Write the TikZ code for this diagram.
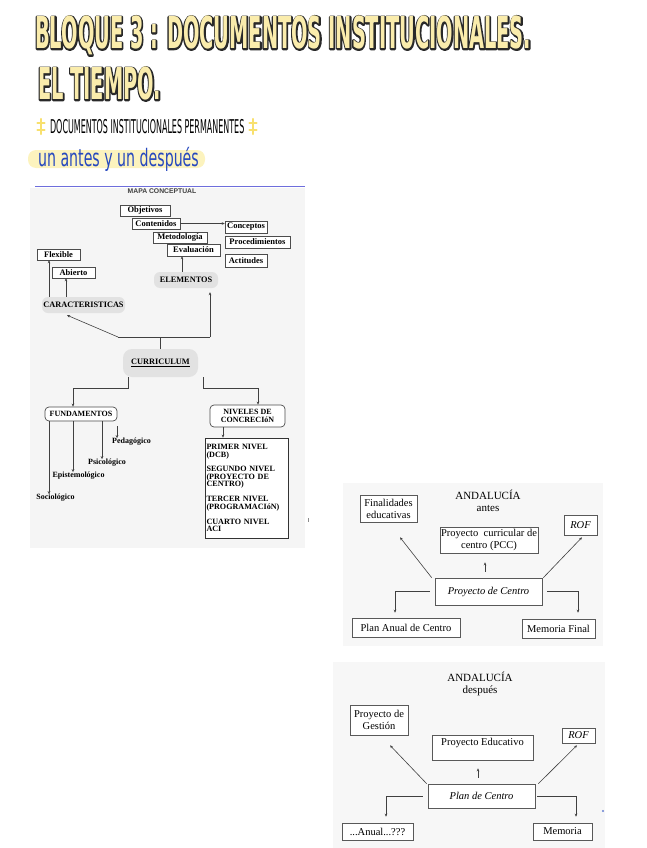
\documentclass[tikz,border=0pt]{standalone}
\usepackage{fontspec}
\setmainfont{Liberation Serif}
\newfontfamily\mapsans{Liberation Sans}
\newfontfamily\handfont{DejaVu Sans}
\newfontfamily\titlefont[FakeStretch=0.44]{DejaVu Sans Bold}
\usetikzlibrary{arrows.meta,calc}
\definecolor{inkyellow}{RGB}{250,236,172}
\definecolor{inkline}{RGB}{40,40,40}
\definecolor{penblue}{RGB}{38,72,190}
\definecolor{marker}{RGB}{252,243,190}
\definecolor{sparkyellow}{RGB}{248,224,110}
\definecolor{rulecol}{RGB}{110,110,220}
\definecolor{bubblegray}{RGB}{226,226,226}

\begin{document}
\begin{tikzpicture}[x=1pt,y=-1pt,
  >={Stealth[length=3pt,width=2.6pt]},
  link/.style={draw=black!75,line width=0.6pt},
  box/.style={draw=black!70,line width=0.5pt,fill=white,inner sep=0pt,font=\bfseries\fontsize{8.5}{9}\selectfont},
  bubble/.style={fill=bubblegray,rounded corners=6pt,inner sep=0pt,font=\bfseries\fontsize{8.3}{9}\selectfont},
  roundbox/.style={draw=black!70,line width=0.7pt,fill=white,rounded corners=4pt,inner sep=0pt,align=center,font=\bfseries\fontsize{8}{8.6}\selectfont},
  leaf/.style={inner sep=0pt,font=\bfseries\fontsize{8}{9}\selectfont},
  plain/.style={draw=black!65,line width=0.6pt,fill=white,inner sep=0pt,align=center,font=\fontsize{10.5}{12}\selectfont},
  andhead/.style={align=center,inner sep=0pt,font=\fontsize{11}{12}\selectfont},
  ink/.style={anchor=base west,inner sep=0pt,text=inkyellow,font=\titlefont\fontsize{44}{44}\selectfont},
  spark/.style={draw=sparkyellow,line width=2.2pt,line cap=round}]
  \useasboundingbox (0,0) rectangle (646,848);

  % Title (outline pass, then fill pass)
  \node[ink] (title-ol) at (35,49) {\special{pdf:literal direct 1 Tr 2.8 w 1 j 0.16 0.16 0.16 RG}BLOQUE 3 : DOCUMENTOS INSTITUCIONALES.\special{pdf:literal direct 0 Tr}};
  \node[ink] (subtitle-ol) at (38,100) {\special{pdf:literal direct 1 Tr 2.8 w 1 j 0.16 0.16 0.16 RG}EL TIEMPO.\special{pdf:literal direct 0 Tr}};
  \node[ink] (title) at (35,49) {BLOQUE 3 : DOCUMENTOS INSTITUCIONALES.};
  \node[ink] (subtitle) at (38,100) {EL TIEMPO.};

  % Subheadings
  \foreach \sx in {41,253}{
    \draw[spark] (\sx,119) -- (\sx,134);
    \draw[spark] (\sx-3.5,123) -- (\sx+3.5,123);
    \draw[spark] (\sx-3.5,130) -- (\sx+3.5,130);
  }
  \node[anchor=base west,inner sep=0pt,xscale=0.42,font=\handfont\fontsize{19}{19}\selectfont] (perm) at (50,134) {DOCUMENTOS INSTITUCIONALES PERMANENTES};
  \fill[marker,rounded corners=8pt] (28,150) rectangle (205,168);
  \node[anchor=base west,inner sep=0pt,xscale=0.59,text=penblue,font=\handfont\fontsize{24}{24}\selectfont] (later) at (38,166) {un antes y un después};
  \draw[rulecol,line width=0.8pt] (35,186) -- (305,186);

  % Backgrounds
  \fill[black!4] (30,188) rectangle (305,548);
  \fill[black!3] (343,483) rectangle (603,646);
  \fill[black!3] (333,662) rectangle (605,848);

  % Concept map
  \node[font=\mapsans\bfseries\fontsize{6.8}{7}\selectfont,text=black!75,inner sep=0pt] (mapa) at (162,191.5) {MAPA CONCEPTUAL};
  \foreach \n/\x/\y/\w/\h/\t in {obj/145/210.5/50/11/Objetivos, cont/156/223.5/48/11/Contenidos, metod/180/237.5/54/11/Metodología, eval/193.5/250/53/12/Evaluación, conc/246/227/42/12/Conceptos, proc/257.5/242/65/12/Procedimientos, acti/246/260.5/42/13/Actitudes, flex/58.5/254.5/43/11/Flexible, abie/73.5/272.5/43/11/Abierto}
    \node[box,minimum width=\w pt,minimum height=\h pt] (\n) at (\x,\y) {\t};
  \node[bubble,minimum width=64pt,minimum height=16pt] (elem) at (186,280) {ELEMENTOS};
  \node[bubble,minimum width=83pt,minimum height=16pt] (carac) at (83.5,305) {CARACTERISTICAS};
  \node[bubble,minimum width=75pt,minimum height=28pt,rounded corners=9pt] (curr) at (160.5,363) {\underline{CURRICULUM}};
  \node[roundbox,minimum width=72pt,minimum height=14pt] (fund) at (81,414) {FUNDAMENTOS};
  \node[roundbox,minimum width=75pt,minimum height=22pt] (niv) at (247.5,416) {NIVELES DE\\CONCRECIóN};
  \node[box,draw=black!80,line width=0.7pt,minimum width=83pt,minimum height=100pt,text width=80pt,inner sep=1.5pt,align=left,font=\bfseries\fontsize{8.1}{7.45}\selectfont] (list) at (246.5,488)
    {PRIMER NIVEL\\(DCB)\\[7.45pt]SEGUNDO NIVEL\\(PROYECTO DE\\CENTRO)\\[7.45pt]TERCER NIVEL\\(PROGRAMACIóN)\\[7.45pt]CUARTO NIVEL\\ACI};
  \foreach \n/\x/\y/\t in {peda/131.5/442/Pedagógico, psico/107/463/Psicológico, epis/78.5/476/Epistemológico, socio/55.5/498/Sociológico}
    \node[leaf] (\n) at (\x,\y) {\t};

  % Map connectors
  \draw[link,->] (cont.east) -- (cont.east -| conc.west);
  \draw[link,->] ([xshift=-4pt]elem.north) -- ([xshift=-4pt]elem.north |- eval.south);
  \draw[link,->] ([xshift=-34.5pt]carac.north) -- ([xshift=-34.5pt]carac.north |- flex.south);
  \draw[link,->] ([xshift=-17.5pt]carac.north) -- ([xshift=-17.5pt]carac.north |- abie.south);
  \coordinate (cleft) at (118,337);
  \coordinate (cright) at (210,337);
  \draw[link] (curr.north) -- (curr.north |- cleft);
  \draw[link] (cleft) -- (cright);
  \draw[link,->] (cleft) -- ([xshift=-16.5pt,yshift=-2pt]carac.south);
  \draw[link,->,shorten >=4pt] (cright) -- (cright |- elem.south);
  \draw[link,->] ([xshift=-32.5pt]curr.south) -- ++(0,11) -| ([xshift=-8pt]fund.north);
  \draw[link,->] ([xshift=42.5pt]curr.south) -- ++(0,11) -| ([xshift=10.5pt]niv.north);
  \foreach \s/\n in {-32/socio,-8/epis,21/psico}
    \draw[link,->] ([xshift=\s pt]fund.south) -- ([xshift=\s pt]fund.south |- \n.north);
  \draw[link,->,shorten <=5pt] ([xshift=36pt]fund.south) -- ([xshift=36pt]fund.south |- peda.north);
  \draw[link,->] ([xshift=-24.5pt]niv.south) -- ([xshift=-24.5pt]niv.south |- list.north);

  % Andalucia antes
  \node[andhead] (and1) at (488,501) {ANDALUCÍA\\antes};
  \node[plain,minimum width=57pt,minimum height=27pt] (fin) at (388.5,508.5) {Finalidades\\educativas};
  \node[plain,minimum width=98pt,minimum height=26pt] (pcc) at (489,540) {Proyecto\ \ curricular de\\centro (PCC)};
  \node[plain,minimum width=33pt,minimum height=20pt,font=\itshape\fontsize{10.5}{12}\selectfont] (rof1) at (580.5,525) {ROF};
  \node[plain,minimum width=107pt,minimum height=27pt,font=\itshape\fontsize{10.5}{12}\selectfont] (pdc) at (488.5,591.5) {Proyecto de Centro};
  \node[plain,minimum width=108pt,minimum height=19pt] (plan) at (406,627.5) {Plan Anual de Centro};
  \node[plain,minimum width=73pt,minimum height=19pt] (mem1) at (558.5,628.5) {Memoria Final};
  \draw[link,->] ([xshift=-3pt]pdc.north west) -- ([xshift=11.5pt,yshift=-15pt]fin.south);
  \draw[link,->,shorten <=6pt,shorten >=9pt] ([xshift=-3.5pt]pdc.north) -- ([xshift=-3.5pt]pdc.north |- pcc.south);
  \draw[link,->] ([xshift=1pt]pdc.north east) -- ([xshift=1.5pt,yshift=-2pt]rof1.south);
  \draw[link,->,shorten <=5pt,shorten >=5pt] (pdc.west) -| ([xshift=-11pt]plan.north);
  \draw[link,->,shorten <=5pt,shorten >=6pt] (pdc.east) -| ([xshift=19.5pt]mem1.north);

  % Andalucia despues
  \node[andhead] (and2) at (480,684) {ANDALUCÍA\\después};
  \node[plain,minimum width=58pt,minimum height=30pt] (gest) at (379,720) {Proyecto de\\Gestión};
  \node[plain,minimum width=101pt,inner sep=2pt,text height=8pt,text depth=13pt] (edu) at (482.5,747.5) {Proyecto Educativo};
  \node[plain,minimum width=33pt,minimum height=15pt,font=\itshape\fontsize{10.5}{12}\selectfont] (rof2) at (578.5,735.5) {ROF};
  \node[plain,minimum width=107pt,minimum height=24pt,font=\itshape\fontsize{10.5}{12}\selectfont] (pdc2) at (481.5,796) {Plan de Centro};
  \node[plain,minimum width=71pt,minimum height=17pt] (anual) at (377.5,831.5) {...Anual...???};
  \node[plain,minimum width=59pt,minimum height=17pt] (mem2) at (562.5,831.5) {Memoria};
  \draw[link,->] ([xshift=-1pt]pdc2.north west) -- ([xshift=11pt,yshift=-10pt]gest.south);
  \draw[link,->,shorten <=6pt,shorten >=8pt] ([xshift=-3.5pt]pdc2.north) -- ([xshift=-3.5pt]pdc2.north |- edu.south);
  \draw[link,->] ([xshift=3pt]pdc2.north east) -- ([xshift=-1.5pt,yshift=-2pt]rof2.south);
  \draw[link,->,shorten <=5pt,shorten >=6pt] (pdc2.west) -| ([xshift=8.5pt]anual.north);
  \draw[link,->,shorten <=2pt,shorten >=6pt] (pdc2.east) -| ([xshift=13.5pt]mem2.north);

  % Stray marks
  \fill[black!45] (307.5,518) rectangle (308.5,522);
  \fill[penblue!70] (603,811) circle (1.2);
\end{tikzpicture}
\end{document}
